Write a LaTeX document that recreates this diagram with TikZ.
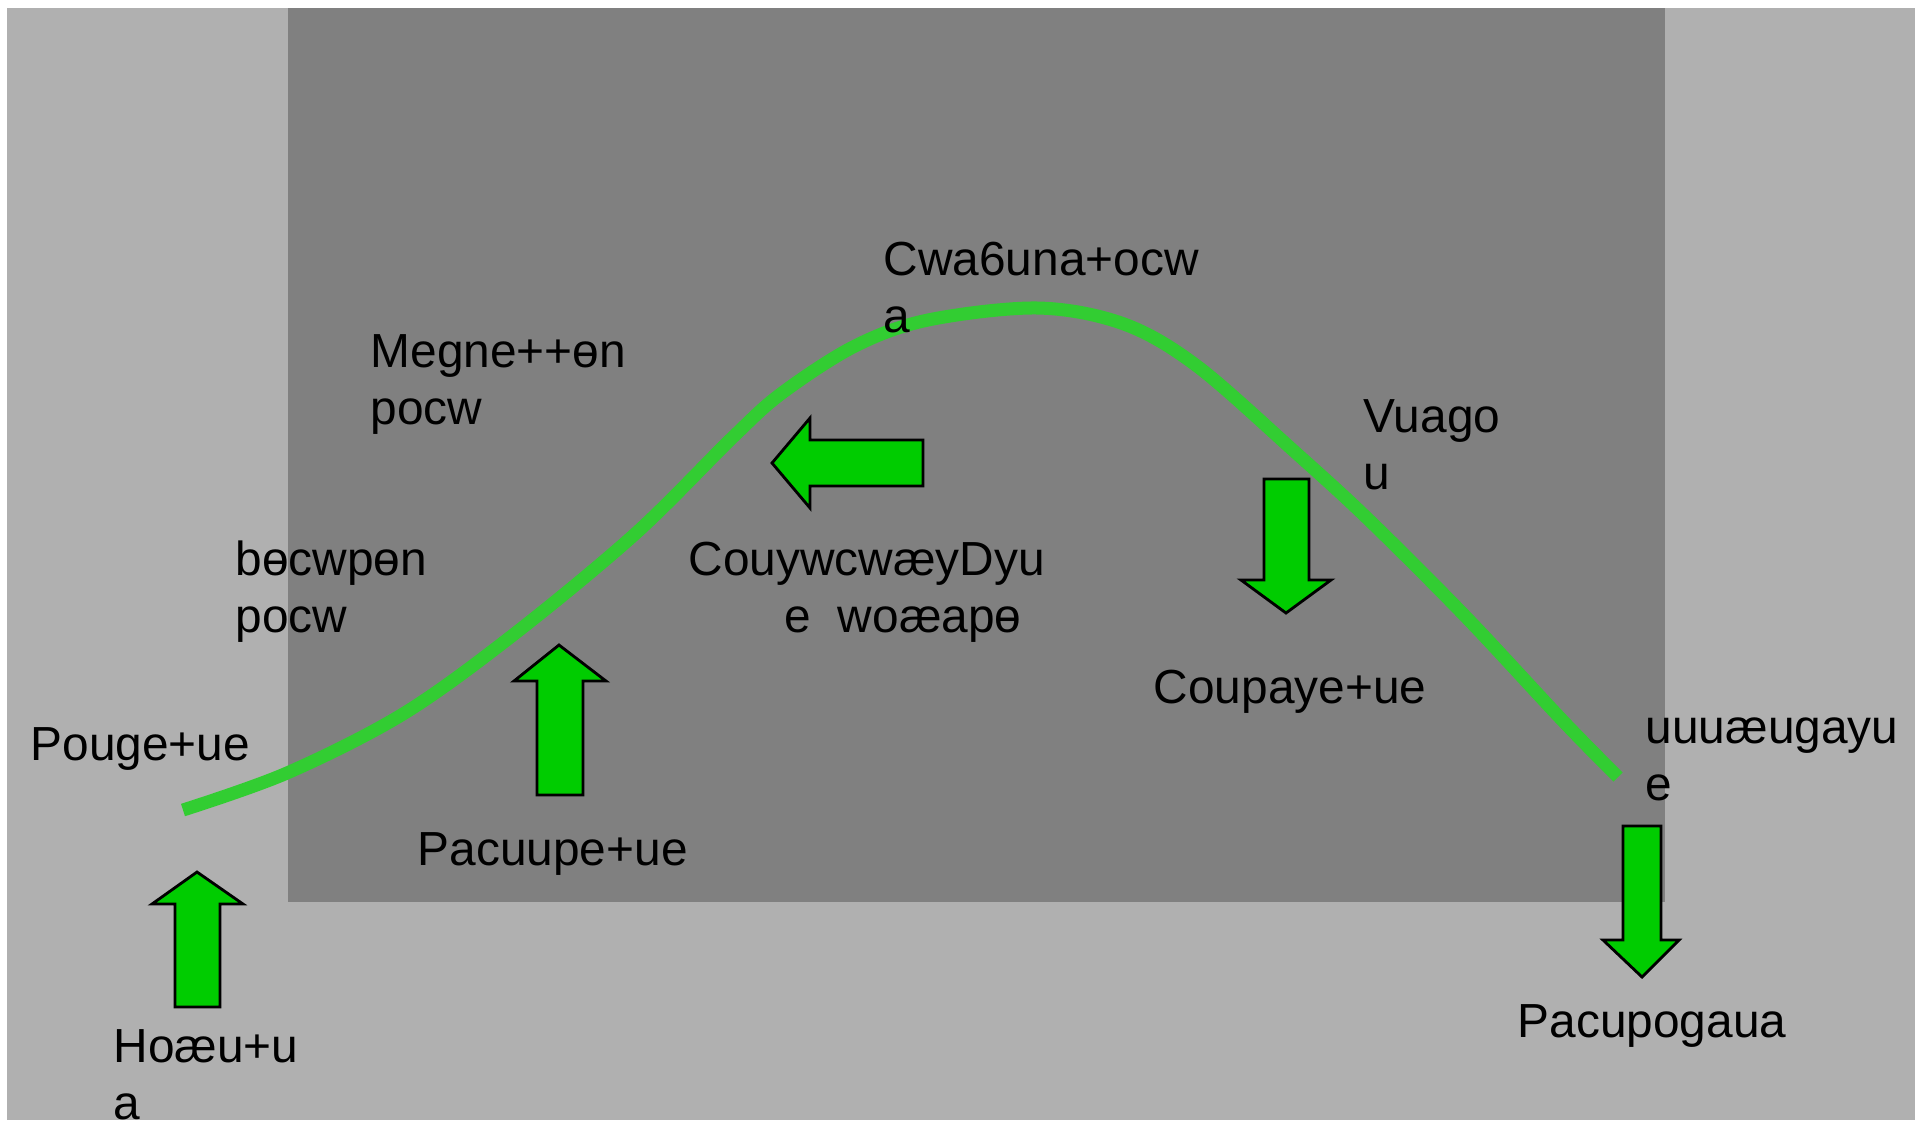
\documentclass[tikz,border=0pt]{standalone}
\usepackage{fontspec}
\setmainfont{Liberation Sans}
\usepackage{tikz}
\usetikzlibrary{positioning}
\definecolor{outergray}{RGB}{176,176,176}
\definecolor{innergray}{RGB}{128,128,128}
\definecolor{curvegreen}{RGB}{50,205,50}
\definecolor{arrgreen}  {RGB}{0,204,0}
\tikzset{
  lbl/.style   ={anchor=base west, inner sep=0pt, align=left,
                 font=\fontsize{13.6}{16.2}\selectfont},
  bigarr/.style={draw=black, fill=arrgreen, line width=0.8pt, line join=miter},
  curve/.style ={draw=curvegreen, line width=3.7pt},
}
\begin{document}
\begin{tikzpicture}[x=0.01cm, y=-0.01cm]
  \useasboundingbox (0,0) rectangle (1915,1120);
  \fill[white] (0,0) rectangle (1915,1120);
  %% panels
  \fill[outergray] (7,8) rectangle (1915,1120);
  \fill[innergray] (288,8) rectangle (1665,902);

  %% green curve
  \draw[curve] plot[smooth, tension=0.55] coordinates {
    (183,810) (287,773) (403,714) (513,635) (635,534) (733,437)
    (782,393) (855,346) (928,320) (1038,308) (1124,324) (1197,366)
    (1295,452) (1368,519) (1466,617) (1563,721) (1618,777)};

  %% block arrows
  \draw[bigarr] (197,872) -- (243,904) -- (220,904) -- (220,1007)
        -- (175,1007) -- (175,904) -- (152,904) -- cycle;
  \draw[bigarr] (559,645) -- (606,681) -- (583,681) -- (583,795)
        -- (537,795) -- (537,681) -- (514,681) -- cycle;
  \draw[bigarr] (772,463) -- (810,418) -- (810,440) -- (923,440)
        -- (923,486) -- (810,486) -- (810,508) -- cycle;
  \draw[bigarr] (1286,613) -- (1331,580) -- (1309,580) -- (1309,479)
        -- (1264,479) -- (1264,580) -- (1241,580) -- cycle;
  \draw[bigarr] (1642,977) -- (1679,940) -- (1661,940) -- (1661,826)
        -- (1623,826) -- (1623,940) -- (1603,940) -- cycle;

  %% labels (two-line ones sit on their second baseline)
  \node[lbl] (top)    at (883,332)  {Cwa6una+ocw\\a};
  \node[lbl] (mega)   at (370,424)  {Megne++ɵn\\pocw};
  \node[lbl] (becw)   at (235,632)  {bɵcwpɵn\\pocw};
  \node[lbl] (couy)   at (688,632)  {CouywcwæyDyu\\\hspace*{0.96cm}e\ \ woæapɵ};
  \node[lbl] (vuago)  at (1363,489) {Vuago\\u};
  \node[lbl] (coup)   at (1153,703) {Coupaye+ue};
  \node[lbl] (uuua)   at (1645,800) {uuuæugayu\\e};
  \node[lbl] (pouge)  at (30,760)   {Pouge+ue};
  \node[lbl] (pacuu)  at (417,865)  {Pacuupe+ue};
  \node[lbl] (hoaeu)  at (113,1119) {Hoæu+u\\a};
  \node[lbl] (pacupo) at (1517,1037){Pacupogaua};
\end{tikzpicture}
\end{document}
